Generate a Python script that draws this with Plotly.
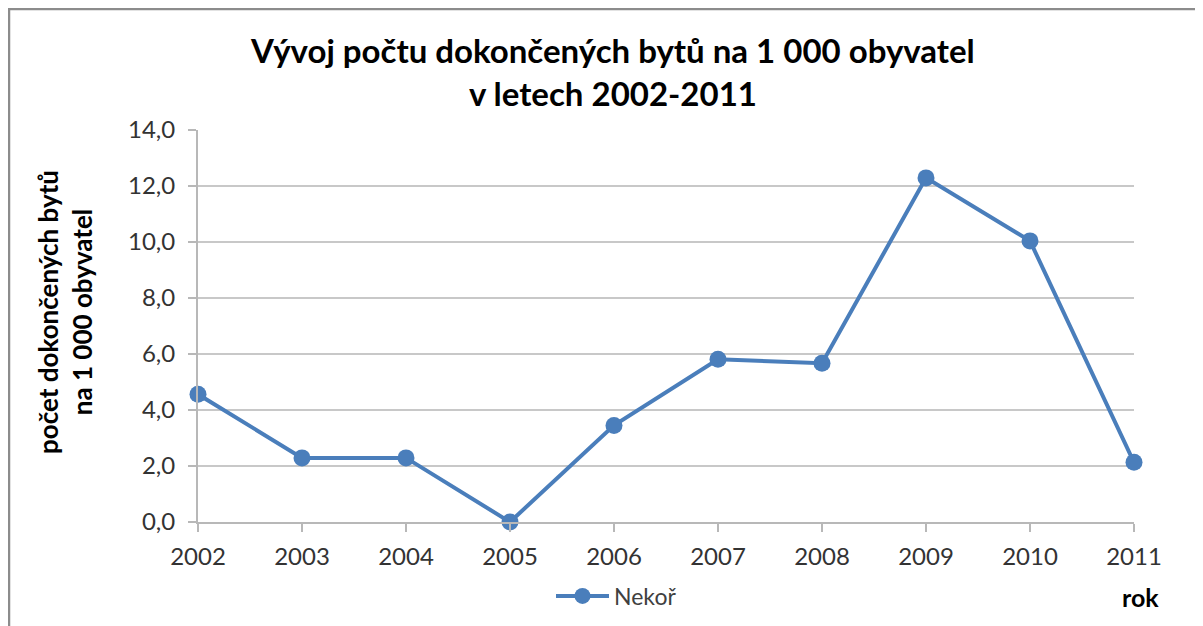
import plotly.graph_objects as go

years = ["2002", "2003", "2004", "2005", "2006", "2007", "2008", "2009", "2010", "2011"]
values = [4.56, 2.29, 2.29, 0.0, 3.45, 5.81, 5.67, 12.29, 10.04, 2.13]
y_ticks = [0, 2, 4, 6, 8, 10, 12, 14]
y_tick_labels = ["0,0", "2,0", "4,0", "6,0", "8,0", "10,0", "12,0", "14,0"]
series_name = "Nekoř"

FONT = "Lato, 'Open Sans', sans-serif"
OFF = 8  # page body margin
# target page pixel positions of the plot area
PL, PR, PT, PB = 198, 1134, 130, 522
W, H = 1195, 618
L, T = PL - OFF, PT - OFF
R = W - L - (PR - PL)
B = H - T - (PB - PT)
PW, PH = PR - PL, PB - PT


def px(x):
    return (x - PL) / PW


def py(y):
    return (PB - y) / PH


fig = go.Figure()
fig.add_trace(go.Scatter(
    x=years, y=values, mode="lines+markers", name=series_name,
    line=dict(color="#4a7ebb", width=4),
    marker=dict(color="#4a7ebb", size=17),
    cliponaxis=False,
))

fig.update_layout(
    width=W, height=H, autosize=False,
    margin=dict(l=L, r=R, t=T, b=B, autoexpand=False),
    paper_bgcolor="white", plot_bgcolor="white",
    font=dict(family=FONT, color="#333333", size=24),
    showlegend=True,
    legend=dict(
        orientation="h", x=px(551), xanchor="left", y=py(596), yanchor="middle",
        font=dict(family=FONT, size=23, color="#404040"),
        bgcolor="rgba(0,0,0,0)", itemwidth=53,
    ),
    xaxis=dict(
        type="category", range=[0, len(years) - 1],
        showgrid=False, showline=True, linecolor="#b8b8b8", linewidth=2,
        ticks="outside", ticklen=8, tickcolor="#b8b8b8", tickwidth=2,
        tickfont=dict(family=FONT, size=24, color="#333333"),
        ticklabelstandoff=4,
        zeroline=False, fixedrange=True,
    ),
    yaxis=dict(
        range=[0, 14], tickvals=y_ticks, ticktext=y_tick_labels,
        showgrid=True, gridcolor="#c8c8c8", gridwidth=2,
        showline=True, linecolor="#b8b8b8", linewidth=2,
        ticks="outside", ticklen=8, tickcolor="#b8b8b8", tickwidth=2,
        tickfont=dict(family=FONT, size=24, color="#333333"),
        ticklabelstandoff=8,
        zeroline=False, fixedrange=True,
    ),
)

# title
fig.add_annotation(
    text="<b>Vývoj počtu dokončených bytů na 1 000 obyvatel<br>v letech 2002-2011</b>",
    xref="paper", yref="paper", x=px(612), y=py(72),
    xanchor="center", yanchor="middle", showarrow=False,
    font=dict(family=FONT, size=33, color="#000000"),
)
# y-axis title
fig.add_annotation(
    text="<b>počet dokončených bytů<br>na 1 000 obyvatel</b>",
    xref="paper", yref="paper", x=px(65), y=py(312),
    xanchor="center", yanchor="middle", textangle=-90, showarrow=False,
    font=dict(family=FONT, size=26, color="#000000"),
)
# x-axis title
fig.add_annotation(
    text="<b>rok</b>",
    xref="paper", yref="paper", x=px(1140), y=py(597),
    xanchor="center", yanchor="middle", showarrow=False,
    font=dict(family=FONT, size=25, color="#000000"),
)
# outer chart frame (extends past right and bottom)
fig.add_shape(
    type="rect", xref="paper", yref="paper",
    x0=px(9), x1=px(1215), y0=py(640), y1=py(9),
    line=dict(color="#8c8c8c", width=2.5), fillcolor="rgba(0,0,0,0)", layer="below",
)

fig.write_html("out.html")
